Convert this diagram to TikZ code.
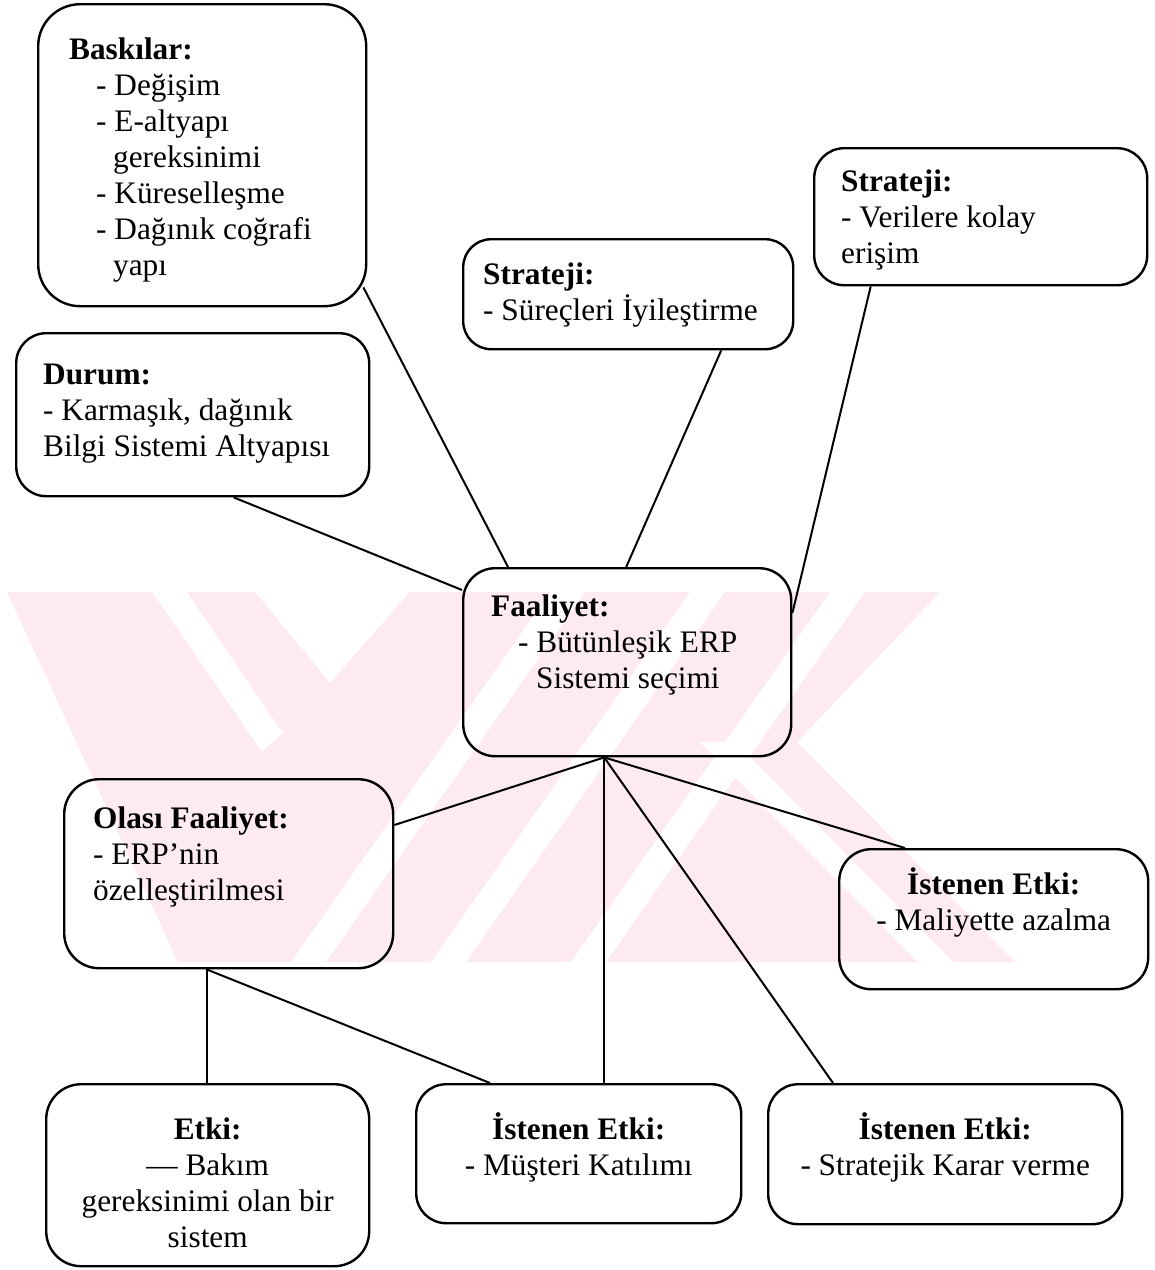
\documentclass[tikz,border=0pt]{standalone}
\usepackage{fontspec}
\setmainfont{Liberation Serif}
\usetikzlibrary{calc}
\definecolor{wmpink}{RGB}{253,235,239}

% text inside the cards: Times-like 12pt look, single spacing
\newcommand\cardfont{\fontsize{31.3pt}{36pt}\selectfont}
\newcommand\tstrut{\rule{0pt}{30pt}}
% left aligned body: width, height, left pad, first baseline from top, lines
\newcommand\cardL[5]{\begin{minipage}[t][#2][t]{#1}\cardfont\raggedright\leftskip=#3\relax
  \vspace*{\dimexpr#4-30pt\relax}\tstrut#5\end{minipage}}
% centred body: width, height, first baseline from top, lines
\newcommand\cardC[4]{\begin{minipage}[t][#2][t]{#1}\cardfont\centering
  \vspace*{\dimexpr#3-30pt\relax}\tstrut#4\end{minipage}}

\tikzset{
  card/.style={draw, line width=2.4pt, rounded corners=#1, anchor=north west, inner sep=0pt},
  link/.style={draw, line width=2pt},
}

\begin{document}
\begin{tikzpicture}[x=1pt, y=-1pt]
  \fill[white] (0,0) rectangle (1155,1270);
  \useasboundingbox (0,0) rectangle (1155,1270);

  % faint background emblem
  \fill[wmpink] (7,592) -- (152,592) -- (262,752) -- (283,733) -- (187,592) -- (255,592)
     -- (330,683) -- (410,592) -- (940,592) -- (797,742) -- (1015,962) -- (178,962) -- cycle;
  \begin{scope}
    \clip (0,592) rectangle (1155,962);
    \fill[white] (550,592) -- (585,592) -- (326,962) -- (291,962) -- cycle;
    \fill[white] (690,592) -- (725,592) -- (466,962) -- (431,962) -- cycle;
    \fill[white] (830,592) -- (865,592) -- (606,962) -- (571,962) -- cycle;
    \fill[white] (700,742) -- (735,742) -- (953,962) -- (918,962) -- cycle;
  \end{scope}

  % cards
  \node[card=42pt] (bask) at (37,3) {\cardL{328pt}{302pt}{31pt}{55pt}{%
    \textbf{Baskılar:}\\
    \hspace*{27pt}- Değişim\\
    \hspace*{27pt}- E-altyapı\\
    \hspace*{44pt}gereksinimi\\
    \hspace*{27pt}- Küreselleşme\\
    \hspace*{27pt}- Dağınık coğrafi\\
    \hspace*{44pt}yapı}};

  \node[card=30pt] (dur) at (15,332) {\cardL{353pt}{163pt}{27pt}{51pt}{%
    \textbf{Durum:}\\
    - Karmaşık, dağınık\\
    Bilgi Sistemi Altyapısı}};

  \node[card=28pt] (strm) at (462,238) {\cardL{330pt}{110pt}{20pt}{45pt}{%
    \textbf{Strateji:}\\
    - Süreçleri İyileştirme}};

  \node[card=30pt] (strr) at (813,147) {\cardL{333pt}{137pt}{27pt}{43pt}{%
    \textbf{Strateji:}\\
    - Verilere kolay\\
    erişim}};

  \node[card=32pt] (fa) at (462,567) {\cardL{328pt}{188pt}{28pt}{48pt}{%
    \textbf{Faaliyet:}\\
    \hspace*{27pt}- Bütünleşik ERP\\
    \hspace*{45pt}Sistemi seçimi}};

  \node[card=35pt] (olasi) at (63,778) {\cardL{329pt}{189pt}{29pt}{49pt}{%
    \textbf{Olası Faaliyet:}\\
    - ERP’nin\\
    özelleştirilmesi}};

  \node[card=32pt] (mal) at (838,848) {\cardC{309pt}{140pt}{45pt}{%
    \textbf{İstenen Etki:}\\
    - Maliyette azalma}};

  \node[card=35pt] (etki) at (45,1083) {\cardC{323pt}{182pt}{55pt}{%
    \textbf{Etki:}\\
    — Bakım\\
    gereksinimi olan bir\\
    sistem}};

  \node[card=30pt] (mus) at (415,1083) {\cardC{325pt}{139pt}{55pt}{%
    \textbf{İstenen Etki:}\\
    - Müşteri Katılımı}};

  \node[card=30pt] (strk) at (767,1083) {\cardC{354pt}{140pt}{55pt}{%
    \textbf{İstenen Etki:}\\
    - Stratejik Karar verme}};

  % connectors
  \coordinate (hub) at ([xshift=-23pt]fa.south);
  \coordinate (ohub) at ([xshift=-22pt]olasi.south);

  \draw[link] ([xshift=-4pt,yshift=20pt]bask.south east) -- ([xshift=46pt]fa.north west);
  \draw[link] ([xshift=41pt]dur.south) -- ([yshift=-23pt]fa.north west);
  \draw[link] ([xshift=93pt]strm.south) -- ([xshift=-1pt]fa.north);
  \draw[link] ([xshift=-110pt]strr.south) -- ([yshift=-46pt]fa.north east);

  \draw[link] (hub) -- ([yshift=-47pt]olasi.north east);
  \draw[link] (hub) -- ([xshift=67pt]mal.north west);
  \draw[link] (hub) -- (hub |- mus.north);
  \draw[link] (hub) -- ([xshift=66pt]strk.north west);

  \draw[link] (ohub) -- (ohub |- etki.north);
  \draw[link] (ohub) -- ([xshift=75pt]mus.north west);
\end{tikzpicture}
\end{document}
